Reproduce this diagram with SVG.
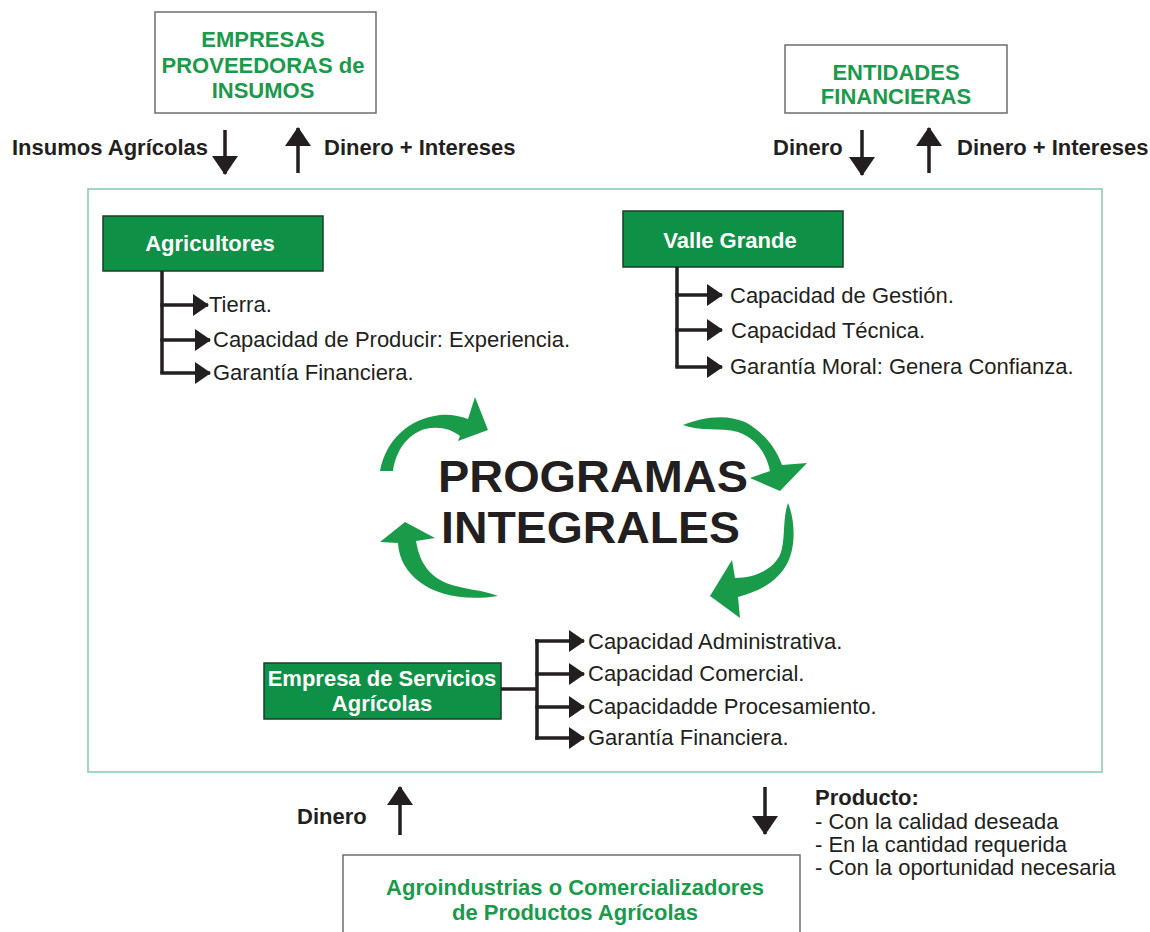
<svg xmlns="http://www.w3.org/2000/svg" width="1150" height="932" viewBox="0 0 1150 932">
<style>
text{font-family:"Liberation Sans",Arial,sans-serif;}
.lbl{font-size:22px;font-weight:bold;fill:#231f20;}
.item{font-size:22px;fill:#231f20;}
.gtx{font-size:22px;font-weight:bold;fill:#1a9a4b;text-anchor:middle;}
.wtx{font-size:22px;font-weight:bold;fill:#ffffff;text-anchor:middle;}
.title{font-size:45px;font-weight:bold;fill:#231f20;}
.obox{fill:#ffffff;stroke:#6d6e71;stroke-width:1.5;}
.gbox{fill:#0e9146;stroke:#1d3b2a;stroke-width:1.5;}
.frame{fill:none;stroke:#8ccfae;stroke-width:1.6;}
.tree{fill:none;stroke:#231f20;stroke-width:3.5;}
.flow{fill:none;stroke:#231f20;stroke-width:3.5;}
.cyc{fill:#1a9b4a;}
</style>
<defs>
<marker id="th" markerUnits="userSpaceOnUse" markerWidth="16" markerHeight="22" viewBox="0 0 16 22" refX="15" refY="11" orient="auto">
<path d="M0,0 L16,11 L0,22 Z" fill="#231f20"/>
</marker>
<marker id="bh" markerUnits="userSpaceOnUse" markerWidth="19" markerHeight="26" viewBox="0 0 19 26" refX="18" refY="13" orient="auto">
<path d="M0,0 L19,13 L0,26 Z" fill="#231f20"/>
</marker>
</defs>
<rect width="1150" height="932" fill="#ffffff"/>

<g id="frame"><rect class="frame" x="88" y="189" width="1014" height="583"/></g>

<g id="empresas-proveedoras">
<rect class="obox" x="155" y="12" width="221" height="101"/>
<text class="gtx" x="263" y="47">EMPRESAS</text>
<text class="gtx" x="263" y="73">PROVEEDORAS de</text>
<text class="gtx" x="263" y="98">INSUMOS</text>
</g>

<g id="entidades-financieras">
<rect class="obox" x="785" y="45" width="222" height="68"/>
<text class="gtx" x="896" y="80">ENTIDADES</text>
<text class="gtx" x="896" y="104">FINANCIERAS</text>
</g>

<g id="agricultores">
<rect class="gbox" x="103" y="216" width="220" height="55"/>
<text class="wtx" x="210" y="251">Agricultores</text>
<text class="item" x="209" y="312">Tierra.</text>
<text class="item" x="213" y="347">Capacidad de Producir: Experiencia.</text>
<text class="item" x="213" y="380">Garantía Financiera.</text>
</g>

<g id="valle-grande">
<rect class="gbox" x="623" y="211" width="220" height="56"/>
<text class="wtx" x="730" y="248">Valle Grande</text>
<text class="item" x="730" y="303">Capacidad de Gestión.</text>
<text class="item" x="731" y="338">Capacidad Técnica.</text>
<text class="item" x="730" y="374">Garantía Moral: Genera Confianza.</text>
</g>

<g id="programas-integrales">
<text class="title" x="438" y="492" textLength="310" lengthAdjust="spacingAndGlyphs">PROGRAMAS</text>
<text class="title" x="441" y="543" textLength="299" lengthAdjust="spacingAndGlyphs">INTEGRALES</text>
<path class="cyc" d="M380,471 C386,440 408,419 440,415 C450,414 460,416 468,419 L475,397 L488,430 L458,441 L460,436 C450,428 438,426 425,429 C408,434 396,450 393,471 Z"/>
<path class="cyc" d="M683,425 C700,418 725,413 745,422 C760,430 775,445 782,465 L807,463 L780,491 L750,478 L770,471 C766,452 755,438 738,432 C720,427 700,432 683,425 Z"/>
<path class="cyc" d="M788,503 C795,520 796,545 788,562 C780,578 765,590 738,597 L740,618 L710,596 L732,560 L735,578 C755,578 772,570 780,555 C786,540 782,520 788,503 Z"/>
<path class="cyc" d="M498,596 C470,584 425,595 416,541 L435,538 L405,522 L380,542 L398,543 C400,580 440,605 498,596 Z"/>
</g>

<g id="empresa-servicios">
<rect class="gbox" x="264" y="663" width="237" height="56"/>
<text class="wtx" x="382" y="686">Empresa de Servicios</text>
<text class="wtx" x="382" y="711">Agrícolas</text>
<text class="item" x="588" y="649">Capacidad Administrativa.</text>
<text class="item" x="588" y="681">Capacidad Comercial.</text>
<text class="item" x="588" y="714">Capacidadde Procesamiento.</text>
<text class="item" x="588" y="745">Garantía Financiera.</text>
</g>

<g id="agroindustrias">
<rect class="obox" x="343" y="855" width="457" height="100"/>
<text class="gtx" x="575" y="895">Agroindustrias o Comercializadores</text>
<text class="gtx" x="575" y="920">de Productos Agrícolas</text>
</g>

<g id="flow-labels">
<text class="lbl" x="12" y="155">Insumos Agrícolas</text>
<text class="lbl" x="324" y="155">Dinero + Intereses</text>
<text class="lbl" x="773" y="155">Dinero</text>
<text class="lbl" x="957" y="155">Dinero + Intereses</text>
<text class="lbl" x="297" y="824">Dinero</text>
<text class="lbl" x="815" y="805">Producto:</text>
<text class="item" x="815" y="829">- Con la calidad deseada</text>
<text class="item" x="815" y="852">- En la cantidad requerida</text>
<text class="item" x="815" y="875">- Con la oportunidad necesaria</text>
</g>

<g id="connectors">
<line class="flow" x1="225" y1="130" x2="225" y2="174" marker-end="url(#bh)"/>
<line class="flow" x1="298" y1="173" x2="298" y2="128" marker-end="url(#bh)"/>
<line class="flow" x1="862" y1="130" x2="862" y2="175" marker-end="url(#bh)"/>
<line class="flow" x1="929" y1="173" x2="929" y2="128" marker-end="url(#bh)"/>
<line class="flow" x1="400" y1="835" x2="400" y2="787" marker-end="url(#bh)"/>
<line class="flow" x1="765" y1="787" x2="765" y2="834" marker-end="url(#bh)"/>
<path class="tree" d="M162,271 V373"/>
<line class="tree" x1="160.25" y1="305" x2="208" y2="305" marker-end="url(#th)"/>
<line class="tree" x1="160.25" y1="340" x2="210" y2="340" marker-end="url(#th)"/>
<line class="tree" x1="160.25" y1="373" x2="210" y2="373" marker-end="url(#th)"/>
<path class="tree" d="M677,267 V367"/>
<line class="tree" x1="675.25" y1="295" x2="722" y2="295" marker-end="url(#th)"/>
<line class="tree" x1="675.25" y1="330" x2="722" y2="330" marker-end="url(#th)"/>
<line class="tree" x1="675.25" y1="367" x2="722" y2="367" marker-end="url(#th)"/>
<path class="tree" d="M501,689 H537 M537,639.25 V739.75"/>
<line class="tree" x1="535.25" y1="641" x2="584" y2="641" marker-end="url(#th)"/>
<line class="tree" x1="535.25" y1="674" x2="584" y2="674" marker-end="url(#th)"/>
<line class="tree" x1="535.25" y1="707" x2="584" y2="707" marker-end="url(#th)"/>
<line class="tree" x1="535.25" y1="738" x2="584" y2="738" marker-end="url(#th)"/>
</g>
</svg>
